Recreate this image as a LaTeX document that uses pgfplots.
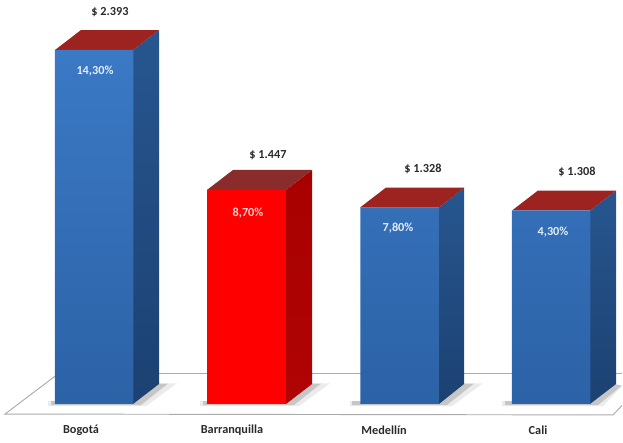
\documentclass[border=0pt]{standalone}
\usepackage{pgfplots}
\pgfplotsset{compat=1.18}
\usepackage{fontspec}
\setmainfont{Carlito}
\definecolor{bluetop}{HTML}{3B79C5}
\definecolor{bluebot}{HTML}{2C62A6}
\definecolor{sidetop}{HTML}{27568F}
\definecolor{sidebot}{HTML}{1C4172}
\definecolor{roofblue}{HTML}{9C2320}
\definecolor{roofred}{HTML}{8A2C2C}
\definecolor{redsidetop}{HTML}{A80000}
\definecolor{redsidebot}{HTML}{B00404}
\definecolor{floorline}{HTML}{ABABAB}
\definecolor{labeltext}{HTML}{2A2A2A}
\definecolor{inbar}{HTML}{E3ECF7}
\definecolor{inred}{HTML}{F7CFCF}
\begin{document}
\begin{tikzpicture}
\begin{axis}[
  scale only axis, width=467.25pt, height=331.5pt,
  xmin=0, xmax=623, ymin=-257, ymax=2731,
  hide axis, clip=false,
  nodes={font=\fontsize{9.2}{11}\selectfont\bfseries, inner sep=0pt, anchor=center},
]
\path[use as bounding box] (rel axis cs:0,0) rectangle (rel axis cs:1,1);

% outline of the floor
\addplot[draw=floorline, line width=0.7pt] coordinates {(58,203) (5,-68) (613,-74) (622,-10)};
\addplot[draw=floorline, line width=0.7pt] coordinates {(58,203) (622,203)};

% shadows at the foot of the bars
\addplot[draw=none, fill=gray, fill opacity=0.16] coordinates {(48,-14) (146,-14) (177,140) (155,140) (133,20) (48,20)} -- cycle;
\addplot[draw=none, fill=gray, fill opacity=0.16] coordinates {(200,-14) (299,-14) (330,140) (308,140) (286,20) (200,20)} -- cycle;
\addplot[draw=none, fill=gray, fill opacity=0.16] coordinates {(350,-14) (452,-14) (483,140) (460,140) (439,20) (350,20)} -- cycle;
\addplot[draw=none, fill=gray, fill opacity=0.16] coordinates {(502,-14) (603,-14) (622,120) (612,140) (590,20) (502,20)} -- cycle;
\addplot[draw=none, fill=gray, fill opacity=0.34] coordinates {(51,-7) (141,-7) (168,138) (155,138) (133,20) (51,20)} -- cycle;
\addplot[draw=none, fill=gray, fill opacity=0.34] coordinates {(203,-7) (294,-7) (321,138) (308,138) (286,20) (203,20)} -- cycle;
\addplot[draw=none, fill=gray, fill opacity=0.34] coordinates {(352,-7) (447,-7) (474,138) (460,138) (439,20) (352,20)} -- cycle;
\addplot[draw=none, fill=gray, fill opacity=0.34] coordinates {(505,-7) (598,-7) (622,125) (612,138) (590,20) (505,20)} -- cycle;

% side faces
\addplot[draw=none, top color=sidetop, bottom color=sidebot] coordinates {(133,0) (159,135) (159,2528) (133,2393)} -- cycle;
\addplot[draw=none, top color=redsidetop, bottom color=redsidebot] coordinates {(286,0) (312,135) (312,1582) (286,1447)} -- cycle;
\addplot[draw=none, top color=sidetop, bottom color=sidebot] coordinates {(439,0) (464,135) (464,1463) (439,1328)} -- cycle;
\addplot[draw=none, top color=sidetop, bottom color=sidebot] coordinates {(590,0) (616,135) (616,1443) (590,1308)} -- cycle;

% top faces
\addplot[draw=none, fill=roofblue] coordinates {(55,2393) (81,2528) (159,2528) (133,2393)} -- cycle;
\addplot[draw=none, fill=roofred] coordinates {(207,1447) (233,1582) (312,1582) (286,1447)} -- cycle;
\addplot[draw=none, fill=roofblue] coordinates {(360,1328) (386,1463) (464,1463) (439,1328)} -- cycle;
\addplot[draw=none, fill=roofblue] coordinates {(512,1308) (538,1443) (616,1443) (590,1308)} -- cycle;

% front faces
\addplot[ybar, bar width=78.5, bar shift=0pt, draw=none, top color=bluetop, bottom color=bluebot]
  coordinates {(94,2393) (399.5,1328) (551,1308)};
\addplot[ybar, bar width=78.5, bar shift=0pt, draw=none, fill=red]
  coordinates {(246.5,1447)};

% amounts above the bars
\node[text=labeltext] at (axis cs:110,2650) {\$ 2.393};
\node[text=labeltext] at (axis cs:268,1682) {\$ 1.447};
\node[text=labeltext] at (axis cs:423,1589) {\$ 1.328};
\node[text=labeltext] at (axis cs:577,1568) {\$ 1.308};

% shares on the front faces
\node[text=inbar] at (axis cs:95,2252) {14,30\%};
\node[text=inred] at (axis cs:248,1291) {8,70\%};
\node[text=inbar] at (axis cs:398,1190) {7,80\%};
\node[text=inbar] at (axis cs:553,1163) {4,30\%};

% cities
\node[text=labeltext] at (axis cs:81,-176) {Bogotá};
\node[text=labeltext] at (axis cs:232,-176) {Barranquilla};
\node[text=labeltext] at (axis cs:384,-176) {Medellín};
\node[text=labeltext] at (axis cs:538,-176) {Cali};
\end{axis}
\end{tikzpicture}
\end{document}
